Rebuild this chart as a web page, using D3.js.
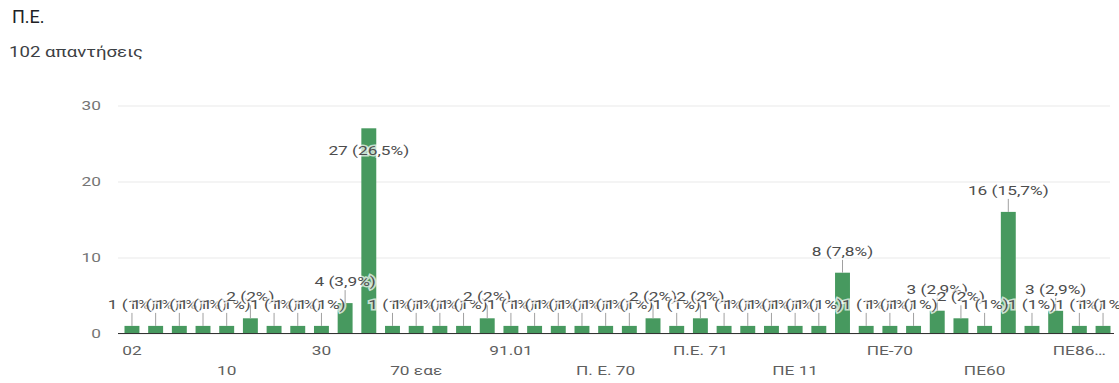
<!DOCTYPE html>
<html>
<head>
<meta charset="utf-8">
<script src="https://cdn.jsdelivr.net/npm/d3@7"></script>
<style>
  html, body { margin: 0; padding: 0; background: #fff; }
  svg { display: block; font-family: Roboto, Arial, sans-serif; }
</style>
</head>
<body>
<svg id="chart" width="1119" height="383"></svg>
<script>
// Answer labels, in the order the form lists them (only every fourth one fits on the axis)
const categories = [
  "02", null, null, null, "10", null, null, null, "30", null,
  null, null, "70 εαε", null, null, null, "91.01", null, null, null,
  "Π. Ε. 70", null, null, null, "Π.Ε. 71", null, null, null, "ΠΕ 11", null,
  null, null, "ΠΕ-70", null, null, null, "ΠΕ60", null, null, null,
  "ΠΕ86…", null
];
// Number of responses for each answer
const counts = [
  1, 1, 1, 1, 1, 2, 1, 1, 1, 4,
  27, 1, 1, 1, 1, 2, 1, 1, 1, 1,
  1, 1, 2, 1, 2, 1, 1, 1, 1, 1,
  8, 1, 1, 1, 3, 2, 1, 16, 1, 3,
  1, 1
];
const yTicks = [0, 10, 20, 30];
const title = "Π.Ε.";
const subtitle = "102 απαντήσεις";

const total = d3.sum(counts);
const svg = d3.select("#chart");
const SX = 1.33;          // the chart text is set wide
const FS = 13;

svg.append("text").attr("x", 12).attr("y", 23)
  .attr("font-size", 18).attr("fill", "#202124").text(title);
svg.append("text").attr("transform", `translate(9,57) scale(${SX},1)`)
  .attr("font-size", 14).attr("fill", "#3c4043").text(subtitle);

const plotLeft = 118, plotRight = 1114, plotTop = 105.5, plotBottom = 333.5;

const x = d3.scaleBand()
  .domain(d3.range(counts.length))
  .range([120, 1115])
  .paddingInner(0.37)
  .paddingOuter(0.19);

const y = d3.scaleLinear().domain([0, 30]).range([plotBottom, plotTop]);

// Gridlines and value labels
const yAxis = svg.append("g")
  .attr("transform", `translate(${plotLeft},0)`)
  .call(d3.axisLeft(y).tickValues(yTicks).tickSize(-(plotRight - 4 - plotLeft)));
yAxis.select(".domain").remove();
yAxis.selectAll(".tick line").attr("stroke", "#e9e9e9");
yAxis.selectAll(".tick text")
  .attr("x", 0)
  .attr("transform", `translate(-17,0) scale(${SX},1)`)
  .attr("fill", "#757575").attr("font-size", FS)
  .attr("font-family", "Roboto, Arial, sans-serif");

// Percent text in the form's style: whole numbers below 2.5%, one decimal with a comma otherwise
const pctLabel = v => {
  const p = v / total * 100;
  const r = p < 2.5 ? String(Math.round(p)) : (Math.round(p * 10) / 10).toFixed(1).replace(".", ",");
  return `${v} (${r}%)`;
};

// Bars
svg.append("g").selectAll("rect")
  .data(counts)
  .join("rect")
  .attr("x", (d, i) => x(i))
  .attr("width", x.bandwidth())
  .attr("y", d => y(d))
  .attr("height", d => y(0) - y(d))
  .attr("fill", "#47995f");

// Baseline
svg.append("line")
  .attr("x1", plotLeft).attr("x2", plotRight)
  .attr("y1", y(0)).attr("y2", y(0))
  .attr("stroke", "#333").attr("stroke-width", 1);

// Category labels, staggered over two rows
const xAxis = svg.append("g")
  .attr("transform", `translate(0,${y(0)})`)
  .call(d3.axisBottom(x)
    .tickValues(d3.range(counts.length).filter(i => categories[i] !== null))
    .tickFormat(i => categories[i])
    .tickSize(0));
xAxis.select(".domain").remove();
xAxis.selectAll(".tick text")
  .attr("fill", "#5f5f5f").attr("font-size", FS)
  .attr("font-family", "Roboto, Arial, sans-serif")
  .attr("dy", null)
  .attr("y", 0)
  .attr("transform", i => `translate(0,${(i / 4) % 2 === 0 ? 21.5 : 41}) scale(${SX},1)`);

// Value annotations with stems; a tall bar carries its label inside
const ann = svg.append("g");
counts.forEach((v, i) => {
  const cx = x(i) + x.bandwidth() / 2;
  const topY = y(v);
  const inside = v > 20;
  const base = inside ? topY + 27 : topY - 17;
  if (!inside) {
    ann.append("line")
      .attr("x1", cx).attr("x2", cx)
      .attr("y1", topY).attr("y2", topY - 13)
      .attr("stroke", "#a0a0a0").attr("stroke-width", 1);
  }
  ann.append("text")
    .attr("transform", `translate(${cx},${base}) scale(${SX},1)`)
    .attr("text-anchor", "middle")
    .attr("font-size", FS)
    .attr("fill", "#4d4d4d")
    .attr("stroke", "#fff").attr("stroke-opacity", 0.7)
    .attr("stroke-width", 3).attr("paint-order", "stroke")
    .text(pctLabel(v));
});
</script>
</body>
</html>
